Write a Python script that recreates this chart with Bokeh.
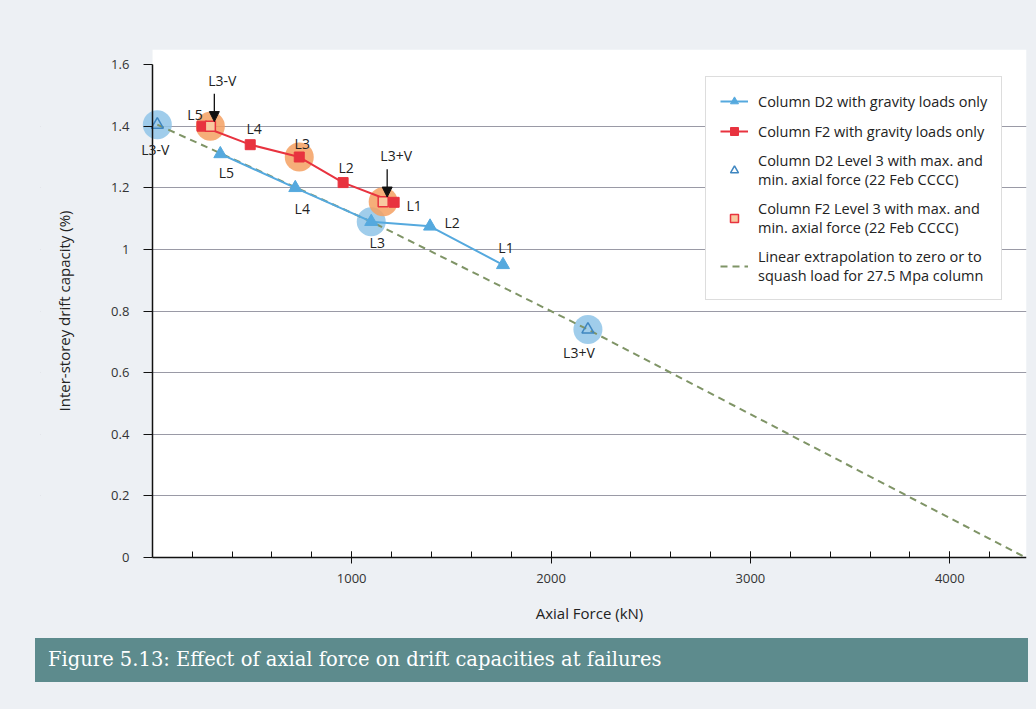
from bokeh.plotting import figure
from bokeh.models import (FixedTicker, Legend, LegendItem, Arrow,
                          NormalHead, Div, Range1d, Label, BoxAnnotation)
from bokeh.layouts import column
from bokeh.embed import file_html
from bokeh.resources import INLINE

# ---------------- data ----------------
d2_levels = ["L5", "L4", "L3", "L2", "L1"]
d2_force = [341, 717, 1098, 1393, 1759]
d2_drift = [1.31, 1.20, 1.09, 1.075, 0.95]

f2_levels = ["L5", "L4", "L3", "L2", "L1"]
f2_force = [249, 491, 737, 957, 1213]
f2_drift = [1.40, 1.34, 1.30, 1.217, 1.153]

d2_l3_cases = ["L3-V", "L3+V"]
d2_l3_force = [25, 2185]
d2_l3_drift = [1.405, 0.74]

f2_l3_cases = ["L3-V", "L3+V"]
f2_l3_force = [291, 1158]
f2_l3_drift = [1.40, 1.155]

squash_force = [4380]
squash_drift = [0.0]

x_major = [1000, 2000, 3000, 4000]
x_minor = [200 * i for i in range(1, 22)]
y_ticks = [0, 0.2, 0.4, 0.6, 0.8, 1, 1.2, 1.4, 1.6]

legend_labels = [
    "Column D2 with gravity loads only",
    "Column F2 with gravity loads only",
    "Column D2 Level 3 with max. and\nmin. axial force (22 Feb CCCC)",
    "Column F2 Level 3 with max. and\nmin. axial force (22 Feb CCCC)",
    "Linear extrapolation to zero or to\nsquash load for 27.5 Mpa column",
]
caption = "Figure 5.13: Effect of axial force on drift capacities at failures"

# ---------------- styles ----------------
BG = "#edf0f4"
BLUE = "#55a9de"
RED = "#e8333f"
BLUE_C = "#8fc4e8"
ORANGE_C = "#f4a062"
GREEN = "#7f9466"
FONT = "Open Sans"

p = figure(width=1028, height=638, output_backend="svg", toolbar_location=None,
           x_range=Range1d(-561, 4385), y_range=Range1d(-0.237, 1.649),
           min_border_left=40, min_border_right=2, min_border_top=49, min_border_bottom=8)
p.background_fill_color = BG
p.border_fill_color = BG
p.outline_line_color = None

# white plotting area (x >= 0, y >= 0), page colour elsewhere
p.add_layout(BoxAnnotation(left=0, bottom=0, fill_color="white", fill_alpha=1,
                           line_color=None, level="image"))
p.add_layout(BoxAnnotation(left=-3000, right=0, bottom=-1, top=3, fill_color=BG,
                           fill_alpha=1, line_color=None, level="underlay"))

# highlight circles (L3 cases of each column)
d2_hl_x = [d2_l3_force[0], d2_force[2], d2_l3_force[1]]
d2_hl_y = [d2_l3_drift[0], d2_drift[2], d2_l3_drift[1]]
f2_hl_x = [f2_l3_force[0], f2_force[2], f2_l3_force[1]]
f2_hl_y = [f2_l3_drift[0], f2_drift[2], f2_l3_drift[1]]
p.scatter(d2_hl_x, d2_hl_y, marker="circle", size=29, fill_color=BLUE_C, fill_alpha=0.85,
          line_color=None)
p.scatter(f2_hl_x, f2_hl_y, marker="circle", size=29, fill_color=ORANGE_C, fill_alpha=0.85,
          line_color=None)

# extrapolation line through D2 L3-V, L3, L3+V to squash load
ex_x = [d2_l3_force[0], d2_force[2], d2_l3_force[1]] + squash_force
ex_y = [d2_l3_drift[0], d2_drift[2], d2_l3_drift[1]] + squash_drift
r_ex = p.line(ex_x, ex_y, line_color=GREEN, line_width=2, line_dash="7 5")

# gravity series
r_d2_line = p.line(d2_force, d2_drift, line_color=BLUE, line_width=2)
r_d2_pts = p.scatter(d2_force, d2_drift, marker="triangle", size=13, fill_color=BLUE,
                     line_color=BLUE)
r_f2_line = p.line(f2_force, f2_drift, line_color=RED, line_width=2)
r_f2_pts = p.scatter(f2_force, f2_drift, marker="square", size=10, fill_color=RED,
                     line_color=RED)

# L3 cases (open markers)
r_d2_open = p.scatter(d2_l3_force, d2_l3_drift, marker="triangle", size=12,
                      fill_color=None, line_color="#3f86c0", line_width=1.5)
r_f2_open = p.scatter(f2_l3_force, f2_l3_drift, marker="square", size=10,
                      fill_color="#f8c9a0", line_color=RED, line_width=1.5)

# point labels (pixel offsets, +dy = downward)
d2_lab_dx = [6, 7, 6, 22, 3]
d2_lab_dy = [19, 21, 21, -4, -17]
f2_lab_dx = [-7, 4, 3, 3, 20]
f2_lab_dy = [-12, -16, -14, -15, 3]
d2c_lab_dx = [-2, -9]
d2c_lab_dy = [25, 23]
f2c_lab_dx = [12, 13]
f2c_lab_dy = [-46, -46]

def labels(xs, ys, txt, dx, dy):
    for x, y, t, ox, oy in zip(xs, ys, txt, dx, dy):
        p.add_layout(Label(x=x, y=y, text=t, x_offset=ox, y_offset=-oy,
                           text_font=FONT, text_font_size="14px", text_color="#222222",
                           text_align="center", text_baseline="middle"))

labels(d2_force, d2_drift, d2_levels, d2_lab_dx, d2_lab_dy)
labels(f2_force, f2_drift, f2_levels, f2_lab_dx, f2_lab_dy)
labels(d2_l3_force, d2_l3_drift, d2_l3_cases, d2c_lab_dx, d2c_lab_dy)
labels(f2_l3_force, f2_l3_drift, f2_l3_cases, f2c_lab_dx, f2c_lab_dy)

# arrows pointing at F2 L3-V and L3+V
for fx, fy in zip(f2_l3_force, f2_l3_drift):
    p.add_layout(Arrow(end=NormalHead(size=10, fill_color="#111111", line_color="#111111"),
                       x_start=fx + 20, y_start=fy + 0.105, x_end=fx + 20, y_end=fy + 0.015,
                       line_color="#111111", line_width=1.3))

# axes (placed at x = 0 and y = 0)
p.xaxis.ticker = FixedTicker(ticks=x_major, minor_ticks=x_minor)
p.xaxis.fixed_location = 0
p.xaxis.bounds = (0, 4385)
p.yaxis.ticker = FixedTicker(ticks=y_ticks)
p.yaxis.fixed_location = 0
p.yaxis.bounds = (0, 1.6)
p.yaxis.major_label_overrides = {0: "0", 1: "1"}
p.ygrid.ticker = FixedTicker(ticks=y_ticks[1:-1])
p.xgrid.visible = False
p.ygrid.grid_line_color = "#9a9aa6"
p.ygrid.grid_line_width = 1

for ax in (p.xaxis[0], p.yaxis[0]):
    ax.axis_line_color = "#111111"
    ax.axis_line_width = 1.5
    ax.major_tick_line_color = "#111111"
    ax.minor_tick_line_color = "#111111"
    ax.major_label_text_font = FONT
    ax.major_label_text_font_size = "13px"
    ax.major_label_text_color = "#333333"
    ax.axis_label_text_font = FONT
    ax.axis_label_text_font_size = "15px"
    ax.axis_label_text_font_style = "normal"
    ax.axis_label_text_color = "#222222"

p.xaxis.axis_label = "Axial Force (kN)"
p.xaxis.major_tick_in = 6
p.xaxis.major_tick_out = 6
p.xaxis.minor_tick_in = 6
p.xaxis.minor_tick_out = 0
p.xaxis.major_label_standoff = 11
p.xaxis.axis_label_standoff = 16

p.yaxis.axis_label = "Inter-storey drift capacity (%)"
p.yaxis.major_tick_in = 0
p.yaxis.major_tick_out = 9
p.yaxis.minor_tick_line_color = None
p.yaxis.major_label_standoff = 14
p.yaxis.axis_label_standoff = 34

# legend
items = [
    LegendItem(label=legend_labels[0], renderers=[r_d2_line, r_d2_pts]),
    LegendItem(label=legend_labels[1], renderers=[r_f2_line, r_f2_pts]),
    LegendItem(label=legend_labels[2], renderers=[r_d2_open]),
    LegendItem(label=legend_labels[3], renderers=[r_f2_open]),
    LegendItem(label=legend_labels[4], renderers=[r_ex]),
]
leg = Legend(items=items, location=(665, 330))
leg.label_text_font = FONT
leg.label_text_font_size = "14.5px"
leg.label_text_color = "#222222"
leg.label_text_line_height = 1.4
leg.glyph_width = 28
leg.glyph_height = 20
leg.label_standoff = 10
leg.spacing = 10
leg.padding = 14
leg.margin = 0
leg.border_line_color = "#bbbbbb"
leg.border_line_width = 1
leg.background_fill_color = "white"
leg.background_fill_alpha = 1
p.add_layout(leg)

band = Div(text=caption, width=993, height=44, margin=(0, 0, 0, 35),
           styles={"background-color": "#5d8b8d", "color": "white",
                   "font-family": "DejaVu Serif", "font-size": "19.5px",
                   "line-height": "44px", "padding-left": "13px",
                   "box-sizing": "border-box", "white-space": "nowrap"})

layout = column(p, band)
html = file_html(layout, INLINE)
html = html.replace("</head>",
                    "<style>html, body { background-color: %s !important; }</style></head>" % BG, 1)
open("out.html", "w").write(html)
